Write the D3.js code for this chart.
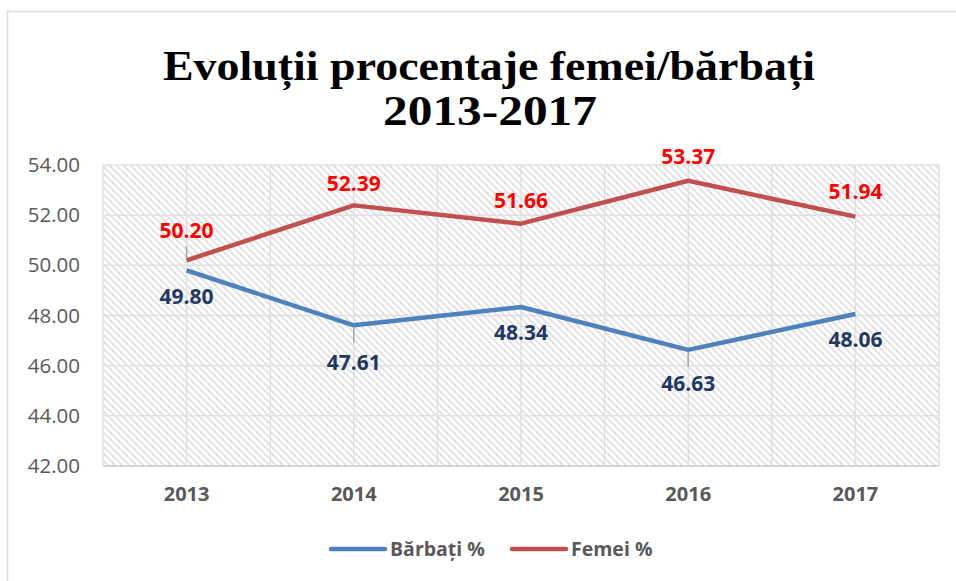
<!DOCTYPE html>
<html><head><meta charset="utf-8">
<script src="https://cdn.jsdelivr.net/npm/d3@7"></script>
<style>body{margin:0;background:#fff}svg{display:block}</style>
</head><body>
<script>
const years = ["2013","2014","2015","2016","2017"];
const barbati = [49.80, 47.61, 48.34, 46.63, 48.06];
const femei = [50.20, 52.39, 51.66, 53.37, 51.94];
const yTicks = [42, 44, 46, 48, 50, 52, 54];
const seriesNames = ["Bărbați %", "Femei %"];
const titleLines = ["Evoluții procentaje femei/bărbați", "2013-2017"];

(function(){
const W = 956, H = 581;
const svg = d3.select("body").append("svg").attr("width", W).attr("height", H);
const defs = svg.append("defs");
const pat = defs.append("pattern").attr("id","hatch").attr("patternUnits","userSpaceOnUse")
  .attr("width",7).attr("height",7);
pat.append("rect").attr("width",7).attr("height",7).attr("fill","#fff");
pat.append("path").attr("d","M-1,-1 L8,8 M-1,6 L1,8 M6,-1 L8,1").attr("stroke","#e0e0e0").attr("stroke-width",1.8);

// outer border
svg.append("rect").attr("x",7.5).attr("y",11.5).attr("width",1000).attr("height",700)
  .attr("fill","#fff").attr("stroke","#d9d9d9").attr("stroke-width",1.5);

const pl = 103, pr = 939, pt = 165, pb = 466;
const x = d3.scaleBand().domain(years).range([pl, pr]);
const y = d3.scaleLinear().domain([42, 54]).range([pb, pt]);

svg.append("rect").attr("x",pl).attr("y",pt).attr("width",pr-pl).attr("height",pb-pt)
  .attr("fill","url(#hatch)");

const grid = svg.append("g").attr("stroke","#e0e0e0").attr("stroke-width",1.5);
yTicks.forEach(t => grid.append("line").attr("x1",pl).attr("x2",pr).attr("y1",y(t)).attr("y2",y(t)));
const vx = years.map(d => x(d)).concat([pr]).concat(years.map(d => x(d)+x.bandwidth()/2));
vx.forEach(v => grid.append("line").attr("x1",v).attr("x2",v).attr("y1",pt).attr("y2",pb));
svg.append("line").attr("x1",pl).attr("x2",pr).attr("y1",pb).attr("y2",pb)
  .attr("stroke","#d4d4d4").attr("stroke-width",2);

// y axis labels
const yAxis = d3.axisLeft(y).tickValues(yTicks).tickFormat(d3.format(".2f")).tickSize(0).tickPadding(23);
const ya = svg.append("g").attr("transform",`translate(${pl},0)`).call(yAxis);
ya.select(".domain").remove();
ya.selectAll("text").attr("font-family","'Open Sans', sans-serif").attr("font-size",20.5).attr("fill","#595959");

// x axis labels
const xAxis = d3.axisBottom(x).tickSize(0).tickPadding(21);
const xa = svg.append("g").attr("transform",`translate(0,${pb})`).call(xAxis);
xa.select(".domain").remove();
xa.selectAll("text").attr("font-family","'Open Sans', sans-serif").attr("font-size",20).attr("font-weight","bold").attr("fill","#595959");

const cx = d => x(d) + x.bandwidth()/2;
const line = d3.line().x((d,i) => cx(years[i])).y(d => y(d));
svg.append("path").datum(barbati).attr("d",line).attr("fill","none").attr("stroke","#4F81BD").attr("stroke-width",4.5).attr("stroke-linejoin","round");
svg.append("path").datum(femei).attr("d",line).attr("fill","none").attr("stroke","#C0504D").attr("stroke-width",4.5).attr("stroke-linejoin","round");

// data labels
const fOff = [30, 22, 23, 24, 25];
const bOff = [26, 37, 26, 34, 26];
const lbl = svg.append("g").attr("font-family","'Open Sans', sans-serif").attr("font-weight","bold").attr("font-size",21).attr("text-anchor","middle");
femei.forEach((v,i) => {
  if (fOff[i] > 28) svg.append("line").attr("x1",cx(years[i])).attr("x2",cx(years[i])).attr("y1",y(v)-2).attr("y2",y(v)-14).attr("stroke","#a6a6a6").attr("stroke-width",1.5);
  lbl.append("text").attr("x",cx(years[i])).attr("y",y(v)-fOff[i]).attr("dy","0.35em").attr("fill","#FF0000").text(v.toFixed(2));
});
barbati.forEach((v,i) => {
  if (bOff[i] > 28) svg.append("line").attr("x1",cx(years[i])).attr("x2",cx(years[i])).attr("y1",y(v)+2).attr("y2",y(v)+17).attr("stroke","#a6a6a6").attr("stroke-width",1.5);
  lbl.append("text").attr("x",cx(years[i])).attr("y",y(v)+bOff[i]).attr("dy","0.35em").attr("fill","#1F3864").text(v.toFixed(2));
});

// title
const tg = svg.append("g").attr("font-family","'Liberation Serif', serif").attr("font-weight","bold").attr("text-anchor","middle").attr("fill","#000");
const t1 = tg.append("text").attr("x",489).attr("y",80).attr("font-size",42).text(titleLines[0]);
const t2 = tg.append("text").attr("x",490).attr("y",125).attr("font-size",42).text(titleLines[1]);
t1.attr("textLength",652).attr("lengthAdjust","spacingAndGlyphs");
t2.attr("textLength",214).attr("lengthAdjust","spacingAndGlyphs");

// legend
const leg = svg.append("g").attr("font-family","'Open Sans', sans-serif").attr("font-weight","bold").attr("font-size",19.5).attr("fill","#595959");
const legItems = [{x:331, c:"#4F81BD", t:seriesNames[0]}, {x:512, c:"#C0504D", t:seriesNames[1]}];
legItems.forEach(it => {
  leg.append("line").attr("x1",it.x).attr("x2",it.x+54).attr("y1",549).attr("y2",549).attr("stroke",it.c).attr("stroke-width",4.5).attr("stroke-linecap","round");
  leg.append("text").attr("x",it.x+59).attr("y",549).attr("dy","0.35em").text(it.t);
});
})();
</script>
</body></html>
